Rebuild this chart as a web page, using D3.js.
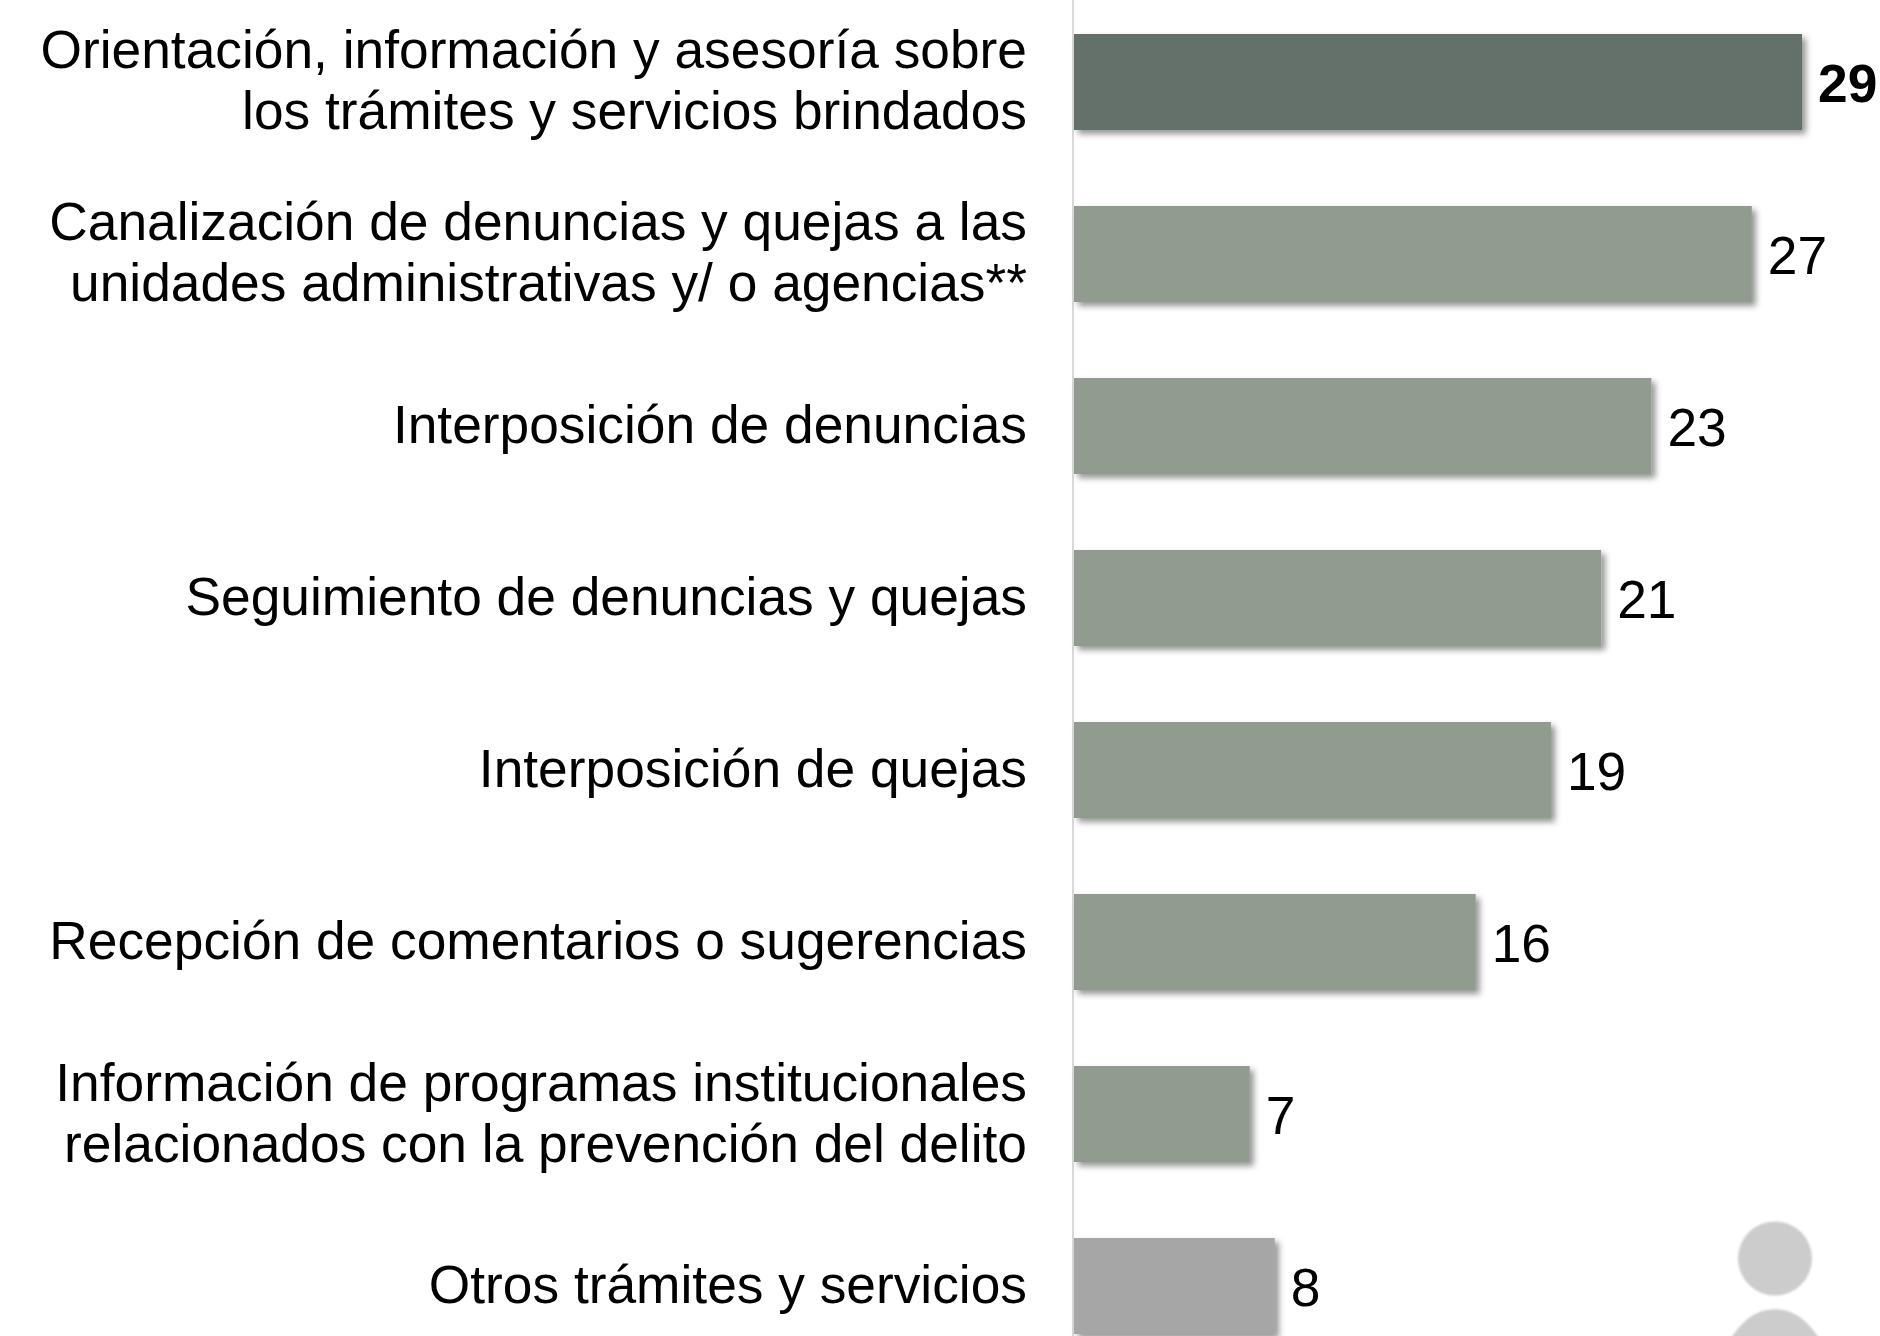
<!DOCTYPE html>
<html lang="es">
<head>
<meta charset="utf-8">
<style>
html,body{margin:0;padding:0;background:#fff;}
svg{display:block;}
text{font-family:"Liberation Sans",Arial,sans-serif;fill:#000;}
</style>
<script src="https://cdn.jsdelivr.net/npm/d3@7/dist/d3.min.js"></script>
</head>
<body>
<svg id="chart" width="1880" height="1336"></svg>
<script>
const categories = [
  ["Orientación, información y asesoría sobre","los trámites y servicios brindados"],
  ["Canalización de denuncias y quejas a las","unidades administrativas y/ o agencias**"],
  ["Interposición de denuncias"],
  ["Seguimiento de denuncias y quejas"],
  ["Interposición de quejas"],
  ["Recepción de comentarios o sugerencias"],
  ["Información de programas institucionales","relacionados con la prevención del delito"],
  ["Otros trámites y servicios"]
];
const values = [29,27,23,21,19,16,7,8];
const barColors = ["#63716b","#929b90","#929b90","#929b90","#929b90","#929b90","#929b90","#a6a6a6"];
const boldFlags = [true,false,false,false,false,false,false,false];

const svg = d3.select("#chart");
const defs = svg.append("defs");
const f = defs.append("filter").attr("id","shadow")
  .attr("x","-5%").attr("y","-10%").attr("width","115%").attr("height","135%");
f.append("feDropShadow").attr("dx",4).attr("dy",4).attr("stdDeviation",3)
  .attr("flood-color","#000").attr("flood-opacity",0.42);
const soft = defs.append("filter").attr("id","soft");
soft.append("feGaussianBlur").attr("stdDeviation",0.8);

const idx = d3.range(categories.length);
const x = d3.scaleLinear().domain([0,29]).range([1074,1802]);
const y = d3.scaleBand().domain(idx).range([34,1334]).paddingInner(0.442);

// axis with category labels
const axisG = svg.append("g").attr("transform","translate(1073,0)")
  .call(d3.axisLeft(y).tickSize(0).tickPadding(0).tickFormat(""));
axisG.select(".domain").remove();
svg.append("line").attr("x1",1073).attr("x2",1073).attr("y1",0).attr("y2",1336)
  .attr("stroke","#d9d9d9").attr("stroke-width",2);

const fontSize = 53.3, lineH = 61;
axisG.selectAll(".tick").each(function(d){
  const lines = categories[d];
  const t = d3.select(this).select("text")
    .attr("x",-46).attr("y",0).attr("dy",null)
    .attr("text-anchor","end").attr("font-size",fontSize).attr("font-family",null)
    .attr("fill","#000");
  t.selectAll("tspan").data(lines).join("tspan")
    .attr("x",-46)
    .attr("y",(l,i)=> (i-(lines.length-1)/2)*lineH + 17)
    .text(l=>l);
});

// decorative figure, lower right
const deco = svg.append("g").attr("fill","#cccccc").attr("filter","url(#soft)");
deco.append("circle").attr("cx",1775).attr("cy",1258.5).attr("r",37);
deco.append("path").attr("d",d3.line().curve(d3.curveBasis)([[1722,1352],[1745,1316],[1775,1306],[1805,1316],[1828,1352]]));

// bars
svg.append("g").selectAll("rect").data(idx).join("rect")
  .attr("x",x(0))
  .attr("y",d=>y(d))
  .attr("width",d=>x(values[d])-x(0))
  .attr("height",y.bandwidth())
  .attr("fill",d=>barColors[d])
  .attr("filter","url(#shadow)");

// values
svg.append("g").selectAll("text").data(idx).join("text")
  .attr("x",d=>x(values[d])+16)
  .attr("y",d=>y(d)+y.bandwidth()/2+20)
  .attr("font-size",fontSize)
  .attr("font-weight",d=>boldFlags[d]?"bold":"normal")
  .text(d=>values[d]);
</script>
</body>
</html>
